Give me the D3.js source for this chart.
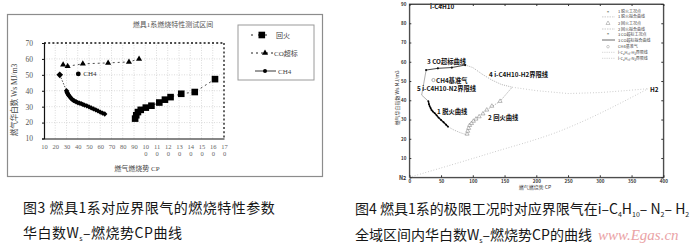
<!DOCTYPE html>
<html><head><meta charset="utf-8">
<script src="https://cdn.jsdelivr.net/npm/d3@7"></script>
<style>html,body{margin:0;padding:0;background:#fff;} svg{display:block;}</style>
</head><body><svg id="c" width="700" height="249"></svg>
<script>
// ---------- Fig.3 data: burner 1, Wobbe index vs combustion potential ----------
const cpTicksL = [10,20,30,40,50,60,70,80,90,100,110,120,130,140,150,160,170];
const wsTicksL = [10,20,30,40,50,60,70];
const flashback = [[91,22.5],[92,24.6],[93.5,26.6],[96,28],[100.5,29.4],[105.5,30.6],[112.5,32.6],[117.5,34.4],[122.5,36],[132,38.1],[144,39.2],[162,47.3]];
const coExceed = [[27,56.3],[31,55.4],[44.5,56.9],[67,57.5],[85.5,58.1],[94.5,60]];
const liftoff = [[24,50],[30,40],[30.5,39],[31,38.3],[31.5,37.6],[32,37],[33,36.3],[34,35.3],[35,34.6],[36,34],[37,33.6],[38.5,33.1],[40,32.6],[41.5,32.2],[43,31.9],[44.5,31.4],[46,31],[48,30.5],[50,29.9],[52,29.2],[54,28.6],[56,28],[58,27.3],[60,26.6],[62,26],[64,25.4]];
const ch4PointL = [40.5,50.6];
const legendL = ['回火','CO超标','CH4'];

// ---------- Fig.4 data: full i-C4H10 / N2 / H2 domain ----------
const cpTicksR = [0,50,100,150,200,250,300,350,400];
const wsTicksR = [0,10,20,30,40,50,60,70,80,90];
const liftoffPtsR = [[30,39.5],[31,38],[32,37],[33.5,36],[35,35],[37,34.2],[40,33.3],[43,32.2],[46,31],[50,29.8],[54,28.6],[58,27.3],[61,26.3]];
const liftoffFitR = [[61,26.3],[70,24.6],[80,23.2],[91,22]];
const flashPtsR = [[91,22.5],[92,24],[93.5,25.5],[95,27],[98,28],[101,29.2],[105,30.3],[110,31.5],[116,33],[122,35],[130,37],[143,39.5]];
const flashFitR = [[91,22],[95,26.5],[105,30.3],[122,35],[143,39.5],[162,46.8]];
const coPtsR = [[26.5,55.7],[45,56.6],[67,57],[88,58.3]];
const lineC4H2 = [[88,58.3],[100,57],[115,53.5],[130,50.5],[145,48.2],[162,46.8]];
const lineC4N2 = [[26.5,55.7],[19.5,42.7],[30,39.5]];
const lineToH2 = [[162,46.8],[200,45],[250,43.5],[300,44],[340,45],[376,46]];
const lineN2H2 = [[0,0],[127,12.5],[237,24],[376,46]];
const ch4PointR = [38,50.5];
const legendR = ['1 脱火工况点','1 脱火拟合曲线','2 回火工况点','2 回火拟合曲线','3 CO超标工况点','3 CO超标拟合曲线','CH4基准气','i-C₄H₁₀-H₂界限线','i-C₄H₁₀-N₂界限线'];

const serif = "'Liberation Serif','Noto Sans CJK SC',serif";
const sans = "'Noto Sans CJK SC','Noto Sans',sans-serif";

const svg = d3.select('#c');
svg.append('rect').attr('width',700).attr('height',249).attr('fill','#fff');

// ================= Left panel =================
const L = svg.append('g');
L.append('rect').attr('x',7.5).attr('y',14.5).attr('width',315).attr('height',162)
  .attr('fill','none').attr('stroke','#8c8c8c').attr('stroke-width',1.2);
L.append('text').attr('x',173).attr('y',27).attr('text-anchor','middle')
  .attr('font-family',serif).attr('font-size',7).attr('fill','#555').text('燃具1系燃烧特性测试区间');

const xL = d3.scaleLinear().domain([10,170]).range([44,224]);
const yL = d3.scaleLinear().domain([10,70]).range([138.5,43]);

// grid
L.append('g').selectAll('line').data(cpTicksL.slice(1,-1)).join('line')
  .attr('x1',d=>xL(d)).attr('x2',d=>xL(d)).attr('y1',yL(10)).attr('y2',yL(70))
  .attr('stroke','#c4c4c4').attr('stroke-width',0.6).attr('stroke-dasharray','1,1.5');
L.append('g').selectAll('line').data(wsTicksL.slice(1,-1)).join('line')
  .attr('y1',d=>yL(d)).attr('y2',d=>yL(d)).attr('x1',xL(10)).attr('x2',xL(170))
  .attr('stroke','#c4c4c4').attr('stroke-width',0.6).attr('stroke-dasharray','1,1.5');

// dashed top / right border of plot
L.append('line').attr('x1',xL(10)).attr('x2',xL(170)).attr('y1',yL(70)).attr('y2',yL(70))
  .attr('stroke','#111').attr('stroke-width',1.3).attr('stroke-dasharray','2,2.2');
L.append('line').attr('x1',xL(170)).attr('x2',xL(170)).attr('y1',yL(70)).attr('y2',yL(10))
  .attr('stroke','#111').attr('stroke-width',1.3).attr('stroke-dasharray','2,2.2');

// axes
const gyL = L.append('g').attr('transform',`translate(${xL(10)},0)`)
  .call(d3.axisLeft(yL).tickValues(wsTicksL).tickSize(2).tickPadding(9));
const gxL = L.append('g').attr('transform',`translate(0,${yL(10)})`)
  .call(d3.axisBottom(xL).tickValues(cpTicksL).tickSize(0).tickFormat(''));
[gyL,gxL].forEach(g=>{
  g.select('.domain').attr('stroke','#111').attr('stroke-width',1.2);
  g.selectAll('.tick line').attr('stroke','#111');
});
gyL.selectAll('text').attr('font-family',serif).attr('font-size',7.5).attr('fill','#555');
gxL.selectAll('.tick').each(function(d){
  const s = String(d);
  const t = d3.select(this).append('text').attr('fill','#666').attr('font-family',serif)
    .attr('font-size',6.5).attr('text-anchor','middle').attr('y',10);
  t.append('tspan').attr('x',0).text(s.slice(0,2));
  if (s.length>2) t.append('tspan').attr('x',0).attr('dy',7).text(s.slice(2));
});
L.append('text').attr('x',137).attr('y',171).attr('text-anchor','middle')
  .attr('font-family',serif).attr('font-size',7).attr('fill','#444').text('燃气燃烧势  CP');
L.append('text').attr('transform','translate(17,100) rotate(-90)').attr('text-anchor','middle')
  .attr('font-family',serif).attr('font-size',7.5).attr('fill','#444').text('燃气华白数  Ws  MJ/m3');

const lineL = d3.line().x(d=>xL(d[0])).y(d=>yL(d[1]));
// flashback
L.append('path').attr('d',lineL(flashback)).attr('fill','none').attr('stroke','#222')
  .attr('stroke-width',0.8).attr('stroke-dasharray','2,3');
L.append('g').selectAll('rect').data(flashback).join('rect')
  .attr('x',d=>xL(d[0])-3.3).attr('y',d=>yL(d[1])-3.3).attr('width',6.6).attr('height',6.6).attr('fill','#000');
// CO exceed
L.append('path').attr('d',lineL(coExceed)).attr('fill','none').attr('stroke','#222')
  .attr('stroke-width',0.8).attr('stroke-dasharray','2,3');
L.append('g').selectAll('path.t').data(coExceed).join('path')
  .attr('transform',d=>`translate(${xL(d[0])},${yL(d[1])})`)
  .attr('d',d3.symbol(d3.symbolTriangle,16)).attr('fill','#000');
// liftoff
L.append('path').attr('d',lineL(liftoff)).attr('fill','none').attr('stroke','#222')
  .attr('stroke-width',0.8).attr('stroke-dasharray','1.5,1.5');
L.append('g').selectAll('path.d').data(liftoff).join('path')
  .attr('transform',(d,i)=>`translate(${xL(d[0])},${yL(d[1])}) rotate(45)`)
  .attr('d',(d,i)=>d3.symbol(d3.symbolSquare,i===0?22:14)()).attr('fill','#000');
// CH4 reference point
L.append('circle').attr('cx',xL(ch4PointL[0])).attr('cy',yL(ch4PointL[1])).attr('r',2.4).attr('fill','#000');
L.append('text').attr('x',xL(ch4PointL[0])+5).attr('y',yL(ch4PointL[1])+2.5)
  .attr('font-family',serif).attr('font-size',7).attr('fill','#333').text('CH4');

// legend
const lg = L.append('g');
lg.append('rect').attr('x',238).attr('y',25).attr('width',76).attr('height',55)
  .attr('fill','#fff').attr('stroke','#9a9a9a').attr('stroke-width',1);
const rowsY = [35,53,71];
lg.append('line').attr('x1',251).attr('x2',272).attr('y1',rowsY[0]).attr('y2',rowsY[0])
  .attr('stroke','#222').attr('stroke-width',1.2).attr('stroke-dasharray','2,5');
lg.append('rect').attr('x',258.5).attr('y',rowsY[0]-3.3).attr('width',6.6).attr('height',6.6).attr('fill','#000');
lg.append('line').attr('x1',251).attr('x2',273).attr('y1',rowsY[1]).attr('y2',rowsY[1])
  .attr('stroke','#222').attr('stroke-width',1).attr('stroke-dasharray','2,3');
lg.append('path').attr('transform',`translate(265,${rowsY[1]})`).attr('d',d3.symbol(d3.symbolTriangle,16)).attr('fill','#000');
lg.append('line').attr('x1',255).attr('x2',276).attr('y1',rowsY[2]).attr('y2',rowsY[2])
  .attr('stroke','#222').attr('stroke-width',0.9);
lg.append('circle').attr('cx',265).attr('cy',rowsY[2]).attr('r',2).attr('fill','#000');
lg.selectAll('text').data(legendL).join('text')
  .attr('x',(d,i)=>[276,274,278][i]).attr('y',(d,i)=>rowsY[i]+2.5)
  .attr('font-family',serif).attr('font-size',7).attr('fill','#444').text(d=>d);

// ================= Right panel =================
const R = svg.append('g');
const xR = d3.scaleLinear().domain([0,400]).range([409.3,663.3]);
const yR = d3.scaleLinear().domain([0,90]).range([177.3,4]);
R.append('rect').attr('x',xR(0)).attr('y',yR(90)).attr('width',xR(400)-xR(0)).attr('height',yR(0)-yR(90))
  .attr('fill','none').attr('stroke','#333').attr('stroke-width',0.8);
const gyR = R.append('g').attr('transform',`translate(${xR(0)},0)`)
  .call(d3.axisLeft(yR).tickValues(wsTicksR).tickSize(-2).tickPadding(3).tickFormat(d=>d===0?'N2':d));
const gxR = R.append('g').attr('transform',`translate(0,${yR(0)})`)
  .call(d3.axisBottom(xR).tickValues(cpTicksR).tickSize(-2).tickPadding(3));
R.append('g').attr('transform',`translate(${xR(400)},0)`)
  .call(d3.axisRight(yR).tickValues(wsTicksR).tickSize(-2).tickFormat(''));
R.append('g').attr('transform',`translate(0,${yR(90)})`)
  .call(d3.axisTop(xR).tickValues(cpTicksR).tickSize(-2).tickFormat(''));
R.selectAll('.domain').attr('stroke','#333').attr('stroke-width',0.8);
R.selectAll('.tick line').attr('stroke','#333');
R.selectAll('.tick text').attr('font-family',sans).attr('font-size',4.5).attr('font-weight','bold').attr('fill','#333');
gyR.selectAll('.tick').filter(d=>d===0).select('text').attr('font-size',5.5);

R.append('text').attr('x',535).attr('y',189).attr('text-anchor','middle')
  .attr('font-family',sans).attr('font-size',5).attr('fill','#333').text('燃气燃烧势 CP');
R.append('text').attr('transform','translate(399,98) rotate(-90)').attr('text-anchor','middle')
  .attr('font-family',sans).attr('font-size',5).attr('fill','#333').text('燃气华白指数 Ws MJ/m3');

const lineR = d3.line().curve(d3.curveMonotoneX).x(d=>xR(d[0])).y(d=>yR(d[1]));
const lineRs = d3.line().x(d=>xR(d[0])).y(d=>yR(d[1]));
const grey = '#9a9a9a';
R.append('path').attr('d',lineR(lineN2H2)).attr('fill','none').attr('stroke','#b0b0b0').attr('stroke-width',0.8).attr('stroke-dasharray','0.8,2');
R.append('path').attr('d',lineRs(lineToH2)).attr('fill','none').attr('stroke','#b0b0b0').attr('stroke-width',0.8).attr('stroke-dasharray','0.8,2');
R.append('path').attr('d',lineRs(lineC4H2)).attr('fill','none').attr('stroke',grey).attr('stroke-width',0.8).attr('stroke-dasharray','1,1.2');
R.append('path').attr('d',lineRs(lineC4N2)).attr('fill','none').attr('stroke',grey).attr('stroke-width',0.8);
R.append('path').attr('d',lineRs(liftoffFitR)).attr('fill','none').attr('stroke',grey).attr('stroke-width',0.7).attr('stroke-dasharray','1,1');
R.append('path').attr('d',lineRs(liftoffPtsR)).attr('fill','none').attr('stroke','#111').attr('stroke-width',1.4);
R.append('g').selectAll('circle').data(liftoffPtsR).join('circle')
  .attr('cx',d=>xR(d[0])).attr('cy',d=>yR(d[1])).attr('r',0.9).attr('fill','#000');
R.append('path').attr('d',lineRs(flashFitR)).attr('fill','none').attr('stroke',grey).attr('stroke-width',0.7).attr('stroke-dasharray','1.5,1');
R.append('g').selectAll('path').data(flashPtsR).join('path')
  .attr('transform',d=>`translate(${xR(d[0])},${yR(d[1])})`)
  .attr('d',d3.symbol(d3.symbolTriangle,7)).attr('fill','#fff').attr('stroke','#8a8a8a').attr('stroke-width',0.6);
R.append('path').attr('d',lineRs(coPtsR)).attr('fill','none').attr('stroke','#333').attr('stroke-width',0.9);
R.append('g').selectAll('circle').data(coPtsR).join('circle')
  .attr('cx',d=>xR(d[0])).attr('cy',d=>yR(d[1])).attr('r',1.1).attr('fill','#111');
R.append('circle').attr('cx',xR(ch4PointR[0])).attr('cy',yR(ch4PointR[1])).attr('r',1.6)
  .attr('fill','none').attr('stroke','#777').attr('stroke-width',0.6);

// curve annotations
const notes = [
  ['i-C4H10',430,9],['3 CO超标曲线',427,64],['4 i-C4H10-H2界限线',489,76.5],['CH4基准气',436,82.5],
  ['5 i-C4H10-N2界限线',417,91],['H2',650,91.5],['1 脱火曲线',437,113.5],['2 回火曲线',488,119.5]
];
R.selectAll('text.note').data(notes).join('text').attr('class','note')
  .attr('x',d=>d[1]).attr('y',d=>d[2]).attr('font-family',sans).attr('font-size',6.3)
  .attr('font-weight','bold').attr('fill','#111').text(d=>d[0]);

// legend
const lyR = [11.7,16.9,23.3,29,34.3,40,46.7,52.3,58.3];
const lgR = R.append('g');
lgR.selectAll('text').data(legendR).join('text').attr('x',618).attr('y',(d,i)=>lyR[i]+1.5)
  .attr('font-family',sans).attr('font-size',4).attr('fill','#444').text(d=>d);
[0,4].forEach(i=>lgR.append('text').attr('x',608).attr('y',lyR[i]+2).attr('text-anchor','middle')
  .attr('font-size',5).attr('fill','#222').text('*'));
[1,3].forEach(i=>lgR.append('line').attr('x1',602).attr('x2',615).attr('y1',lyR[i]).attr('y2',lyR[i])
  .attr('stroke','#aaa').attr('stroke-width',0.6).attr('stroke-dasharray','1.5,1'));
lgR.append('path').attr('transform',`translate(608,${lyR[2]})`).attr('d',d3.symbol(d3.symbolTriangle,7))
  .attr('fill','none').attr('stroke','#888').attr('stroke-width',0.5);
lgR.append('line').attr('x1',602).attr('x2',615).attr('y1',lyR[5]).attr('y2',lyR[5]).attr('stroke','#444').attr('stroke-width',0.8);
lgR.append('circle').attr('cx',608).attr('cy',lyR[6]).attr('r',1.3).attr('fill','none').attr('stroke','#999').attr('stroke-width',0.5);
[7,8].forEach(i=>lgR.append('line').attr('x1',602).attr('x2',615).attr('y1',lyR[i]).attr('y2',lyR[i])
  .attr('stroke','#aaa').attr('stroke-width',0.6).attr('stroke-dasharray','0.8,1'));

// ================= Captions =================
const cap = svg.append('g').attr('font-family',sans).attr('fill','#161616').attr('font-size',14);
cap.append('text').attr('x',23).attr('y',213).attr('letter-spacing',0.5).text('图3 燃具1系对应界限气的燃烧特性参数');
const c2 = cap.append('text').attr('x',23).attr('y',238).attr('letter-spacing',0.5);
c2.append('tspan').text('华白数W');
c2.append('tspan').attr('font-size',7).attr('dy',3).text('s');
c2.append('tspan').attr('dy',-3).text('–燃烧势CP曲线');
const c3 = cap.append('text').attr('x',355).attr('y',214);
c3.append('tspan').text('图4 燃具1系的极限工况时对应界限气在i–C');
c3.append('tspan').attr('font-size',7).attr('dy',3).text('4');
c3.append('tspan').attr('dy',-3).text('H');
c3.append('tspan').attr('font-size',7).attr('dy',3).text('10');
c3.append('tspan').attr('dy',-3).text('– N');
c3.append('tspan').attr('font-size',7).attr('dy',3).text('2');
c3.append('tspan').attr('dy',-3).text('– H');
c3.append('tspan').attr('font-size',7).attr('dy',3).text('2');
const c4 = cap.append('text').attr('x',355).attr('y',240);
c4.append('tspan').text('全域区间内华白数W');
c4.append('tspan').attr('font-size',7).attr('dy',3).text('s');
c4.append('tspan').attr('dy',-3).text('–燃烧势CP的曲线');
svg.append('text').attr('x',598).attr('y',240).attr('font-family',"'Liberation Serif',serif")
  .attr('font-style','italic').attr('font-size',15).attr('fill','#eaa3a6').text('www.Egas.cn');
</script></body></html>
